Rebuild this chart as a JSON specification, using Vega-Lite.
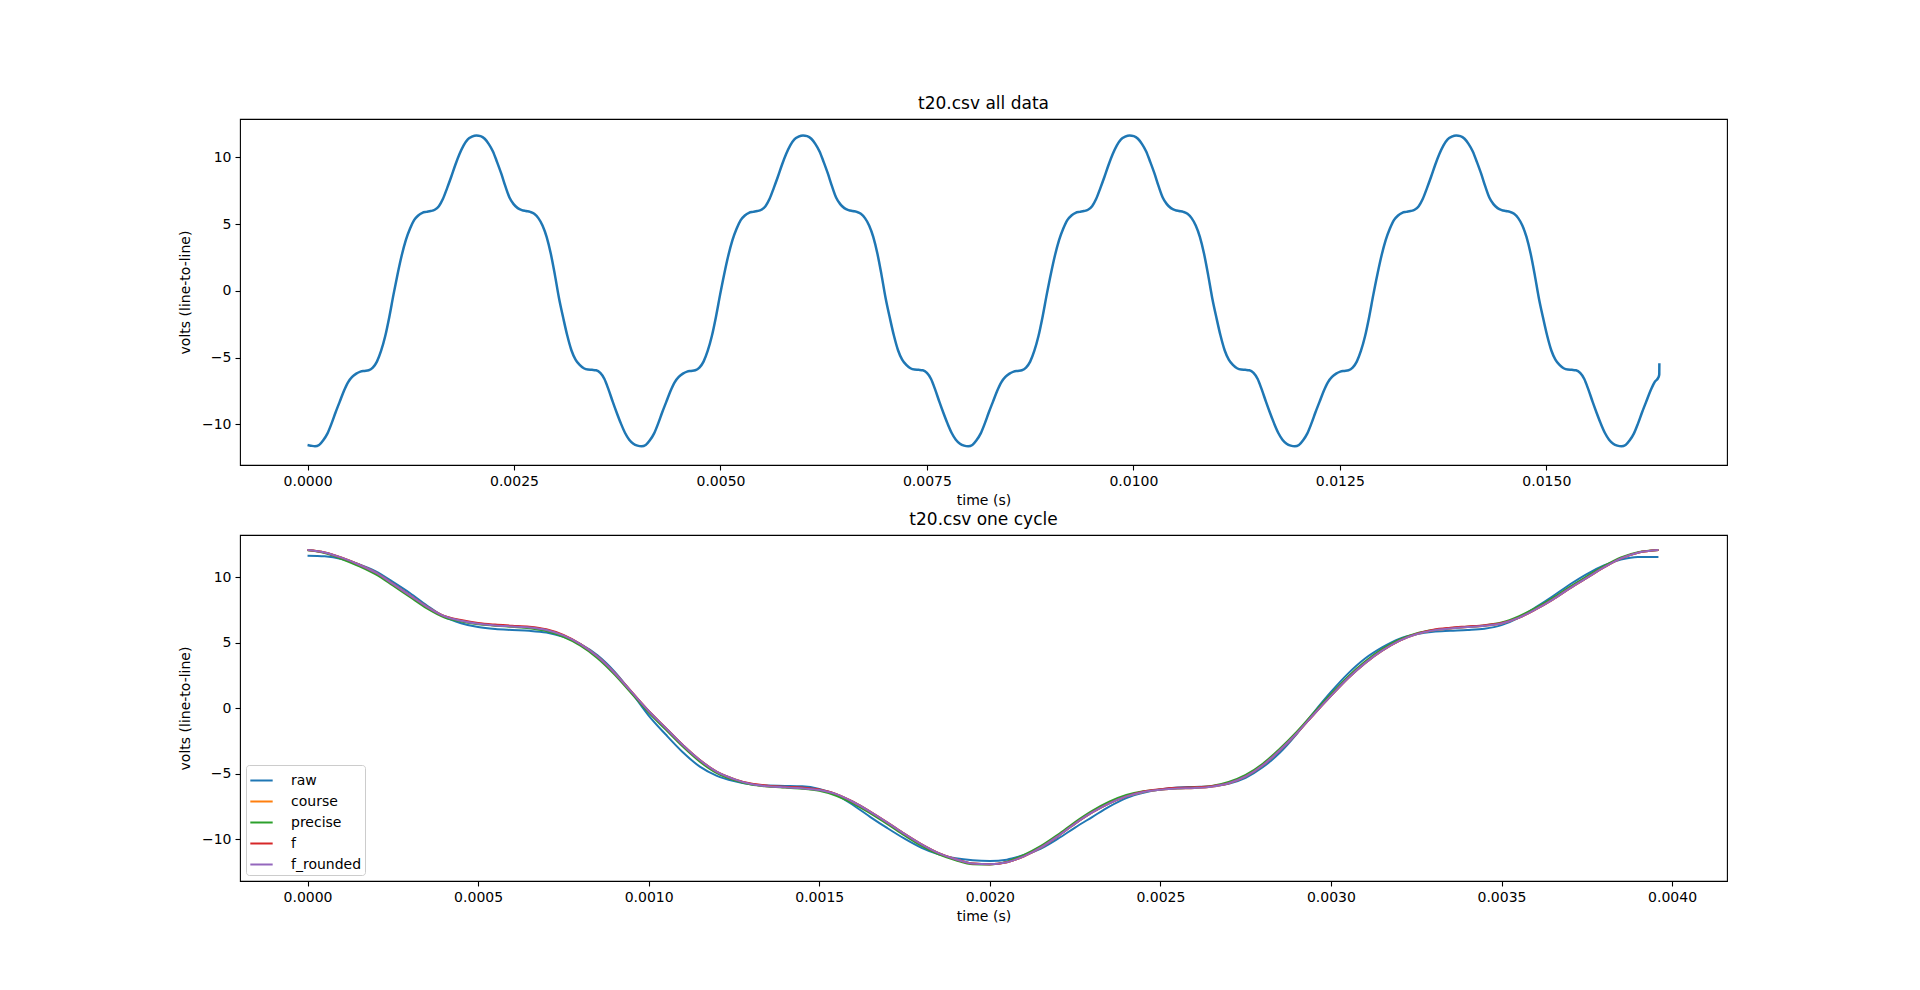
{
"$schema": "https://vega.github.io/schema/vega-lite/v6.json",
"background": "white",
"padding": {"left": 177, "top": 94, "right": 0, "bottom": 0},
"spacing": 70,
"bounds": "flush",
"resolve": {"legend": {"color": "independent"}, "scale": {"color": "independent"}},
"config": {
  "font": "DejaVu Sans",
  "view": {"stroke": "black", "strokeWidth": 1.1},
  "axis": {"domain": false, "grid": false, "ticks": true, "tickColor": "black", "tickSize": 5, "tickWidth": 1.1, "labelFont": "DejaVu Sans", "labelFontSize": 14, "labelColor": "black", "labelPadding": 4, "titleFont": "DejaVu Sans", "titleFontSize": 14, "titleFontWeight": "normal", "titleColor": "black"},
  "axisX": {"titlePadding": 5},
  "axisY": {"titlePadding": 9},
  "title": {"font": "DejaVu Sans", "fontSize": 17, "fontWeight": "normal", "color": "black", "offset": 6},
  "legend": {"symbolType": "stroke", "symbolStrokeWidth": 2, "symbolSize": 500, "labelFont": "DejaVu Sans", "labelFontSize": 14, "labelColor": "black", "rowPadding": 1, "padding": 3, "strokeColor": "#cccccc", "fillColor": "white", "cornerRadius": 3, "labelOffset": 17}
},
"datasets": {
"top": [
{"t":0,"v":-11.55},{"t":0.00004,"v":-11.6},{"t":0.00009,"v":-11.65},{"t":0.00014,"v":-11.55},{"t":0.00019,"v":-11.2},{"t":0.00024,"v":-10.7},{"t":0.00029,"v":-9.95},{"t":0.00034,"v":-9.1},{"t":0.00039,"v":-8.3},{"t":0.00044,"v":-7.5},{"t":0.00049,"v":-6.85},{"t":0.00054,"v":-6.45},{"t":0.00059,"v":-6.2},{"t":0.00064,"v":-6.05},{"t":0.00069,"v":-6.0},{"t":0.00074,"v":-5.95},{"t":0.00079,"v":-5.75},{"t":0.00084,"v":-5.3},{"t":0.00089,"v":-4.5},{"t":0.00094,"v":-3.4},{"t":0.00099,"v":-1.95},{"t":0.00104,"v":-0.3},{"t":0.00109,"v":1.25},{"t":0.00114,"v":2.65},{"t":0.00119,"v":3.8},{"t":0.00124,"v":4.65},{"t":0.00129,"v":5.3},{"t":0.00134,"v":5.65},{"t":0.00139,"v":5.85},{"t":0.00144,"v":5.92},{"t":0.00149,"v":5.98},{"t":0.00154,"v":6.08},{"t":0.00159,"v":6.35},{"t":0.00164,"v":6.9},{"t":0.00169,"v":7.7},{"t":0.00174,"v":8.55},{"t":0.00179,"v":9.45},{"t":0.00184,"v":10.25},{"t":0.00189,"v":10.9},{"t":0.00194,"v":11.35},{"t":0.00199,"v":11.55},
{"t":0.002045,"v":11.65},{"t":0.002095,"v":11.6},{"t":0.002145,"v":11.4},{"t":0.002195,"v":11.0},{"t":0.002245,"v":10.45},{"t":0.002295,"v":9.65},{"t":0.002345,"v":8.8},{"t":0.002395,"v":7.85},{"t":0.002445,"v":7.0},{"t":0.002495,"v":6.5},{"t":0.002545,"v":6.2},{"t":0.002595,"v":6.05},{"t":0.002645,"v":5.98},{"t":0.002695,"v":5.92},{"t":0.002745,"v":5.78},{"t":0.002795,"v":5.45},{"t":0.002845,"v":4.9},{"t":0.002895,"v":4.05},{"t":0.002945,"v":2.8},{"t":0.002995,"v":1.2},{"t":0.003045,"v":-0.55},{"t":0.003095,"v":-2.0},{"t":0.003145,"v":-3.35},{"t":0.003195,"v":-4.45},{"t":0.003245,"v":-5.15},{"t":0.003295,"v":-5.55},{"t":0.003345,"v":-5.8},{"t":0.003395,"v":-5.9},{"t":0.003445,"v":-5.92},{"t":0.003495,"v":-5.95},{"t":0.003545,"v":-6.15},{"t":0.003595,"v":-6.6},{"t":0.003645,"v":-7.4},{"t":0.003695,"v":-8.3},{"t":0.003745,"v":-9.15},{"t":0.003795,"v":-9.95},{"t":0.003845,"v":-10.65},{"t":0.003895,"v":-11.15},{"t":0.003945,"v":-11.45},{"t":0.003995,"v":-11.6},{"t":0.004045,"v":-11.65},{"t":0.004095,"v":-11.55},{"t":0.004145,"v":-11.2},{"t":0.004195,"v":-10.7},{"t":0.004245,"v":-9.95},{"t":0.004295,"v":-9.1},{"t":0.004345,"v":-8.3},{"t":0.004395,"v":-7.5},{"t":0.004445,"v":-6.85},{"t":0.004495,"v":-6.45},{"t":0.004545,"v":-6.2},{"t":0.004595,"v":-6.05},{"t":0.004645,"v":-6.0},{"t":0.004695,"v":-5.95},{"t":0.004745,"v":-5.75},{"t":0.004795,"v":-5.3},{"t":0.004845,"v":-4.5},{"t":0.004895,"v":-3.4},{"t":0.004945,"v":-1.95},{"t":0.004995,"v":-0.3},{"t":0.005045,"v":1.25},{"t":0.005095,"v":2.65},{"t":0.005145,"v":3.8},{"t":0.005195,"v":4.65},{"t":0.005245,"v":5.3},{"t":0.005295,"v":5.65},{"t":0.005345,"v":5.85},{"t":0.005395,"v":5.92},{"t":0.005445,"v":5.98},{"t":0.005495,"v":6.08},{"t":0.005545,"v":6.35},{"t":0.005595,"v":6.9},{"t":0.005645,"v":7.7},{"t":0.005695,"v":8.55},{"t":0.005745,"v":9.45},{"t":0.005795,"v":10.25},{"t":0.005845,"v":10.9},{"t":0.005895,"v":11.35},{"t":0.005945,"v":11.55},
{"t":0.0060,"v":11.65},{"t":0.00605,"v":11.6},{"t":0.0061,"v":11.4},{"t":0.00615,"v":11.0},{"t":0.0062,"v":10.45},{"t":0.00625,"v":9.65},{"t":0.0063,"v":8.8},{"t":0.00635,"v":7.85},{"t":0.0064,"v":7.0},{"t":0.00645,"v":6.5},{"t":0.0065,"v":6.2},{"t":0.00655,"v":6.05},{"t":0.0066,"v":5.98},{"t":0.00665,"v":5.92},{"t":0.0067,"v":5.78},{"t":0.00675,"v":5.45},{"t":0.0068,"v":4.9},{"t":0.00685,"v":4.05},{"t":0.0069,"v":2.8},{"t":0.00695,"v":1.2},{"t":0.0070,"v":-0.55},{"t":0.00705,"v":-2.0},{"t":0.0071,"v":-3.35},{"t":0.00715,"v":-4.45},{"t":0.0072,"v":-5.15},{"t":0.00725,"v":-5.55},{"t":0.0073,"v":-5.8},{"t":0.00735,"v":-5.9},{"t":0.0074,"v":-5.92},{"t":0.00745,"v":-5.95},{"t":0.0075,"v":-6.15},{"t":0.00755,"v":-6.6},{"t":0.0076,"v":-7.4},{"t":0.00765,"v":-8.3},{"t":0.0077,"v":-9.15},{"t":0.00775,"v":-9.95},{"t":0.0078,"v":-10.65},{"t":0.00785,"v":-11.15},{"t":0.0079,"v":-11.45},{"t":0.00795,"v":-11.6},{"t":0.0080,"v":-11.65},{"t":0.00805,"v":-11.55},{"t":0.0081,"v":-11.2},{"t":0.00815,"v":-10.7},{"t":0.0082,"v":-9.95},{"t":0.00825,"v":-9.1},{"t":0.0083,"v":-8.3},{"t":0.00835,"v":-7.5},{"t":0.0084,"v":-6.85},{"t":0.00845,"v":-6.45},{"t":0.0085,"v":-6.2},{"t":0.00855,"v":-6.05},{"t":0.0086,"v":-6.0},{"t":0.00865,"v":-5.95},{"t":0.0087,"v":-5.75},{"t":0.00875,"v":-5.3},{"t":0.0088,"v":-4.5},{"t":0.00885,"v":-3.4},{"t":0.0089,"v":-1.95},{"t":0.00895,"v":-0.3},{"t":0.0090,"v":1.25},{"t":0.00905,"v":2.65},{"t":0.0091,"v":3.8},{"t":0.00915,"v":4.65},{"t":0.0092,"v":5.3},{"t":0.00925,"v":5.65},{"t":0.0093,"v":5.85},{"t":0.00935,"v":5.92},{"t":0.0094,"v":5.98},{"t":0.00945,"v":6.08},{"t":0.0095,"v":6.35},{"t":0.00955,"v":6.9},{"t":0.0096,"v":7.7},{"t":0.00965,"v":8.55},{"t":0.0097,"v":9.45},{"t":0.00975,"v":10.25},{"t":0.0098,"v":10.9},{"t":0.00985,"v":11.35},{"t":0.0099,"v":11.55},
{"t":0.009955,"v":11.65},{"t":0.010005,"v":11.6},{"t":0.010055,"v":11.4},{"t":0.010105,"v":11.0},{"t":0.010155,"v":10.45},{"t":0.010205,"v":9.65},{"t":0.010255,"v":8.8},{"t":0.010305,"v":7.85},{"t":0.010355,"v":7.0},{"t":0.010405,"v":6.5},{"t":0.010455,"v":6.2},{"t":0.010505,"v":6.05},{"t":0.010555,"v":5.98},{"t":0.010605,"v":5.92},{"t":0.010655,"v":5.78},{"t":0.010705,"v":5.45},{"t":0.010755,"v":4.9},{"t":0.010805,"v":4.05},{"t":0.010855,"v":2.8},{"t":0.010905,"v":1.2},{"t":0.010955,"v":-0.55},{"t":0.011005,"v":-2.0},{"t":0.011055,"v":-3.35},{"t":0.011105,"v":-4.45},{"t":0.011155,"v":-5.15},{"t":0.011205,"v":-5.55},{"t":0.011255,"v":-5.8},{"t":0.011305,"v":-5.9},{"t":0.011355,"v":-5.92},{"t":0.011405,"v":-5.95},{"t":0.011455,"v":-6.15},{"t":0.011505,"v":-6.6},{"t":0.011555,"v":-7.4},{"t":0.011605,"v":-8.3},{"t":0.011655,"v":-9.15},{"t":0.011705,"v":-9.95},{"t":0.011755,"v":-10.65},{"t":0.011805,"v":-11.15},{"t":0.011855,"v":-11.45},{"t":0.011905,"v":-11.6},{"t":0.011955,"v":-11.65},{"t":0.012005,"v":-11.55},{"t":0.012055,"v":-11.2},{"t":0.012105,"v":-10.7},{"t":0.012155,"v":-9.95},{"t":0.012205,"v":-9.1},{"t":0.012255,"v":-8.3},{"t":0.012305,"v":-7.5},{"t":0.012355,"v":-6.85},{"t":0.012405,"v":-6.45},{"t":0.012455,"v":-6.2},{"t":0.012505,"v":-6.05},{"t":0.012555,"v":-6.0},{"t":0.012605,"v":-5.95},{"t":0.012655,"v":-5.75},{"t":0.012705,"v":-5.3},{"t":0.012755,"v":-4.5},{"t":0.012805,"v":-3.4},{"t":0.012855,"v":-1.95},{"t":0.012905,"v":-0.3},{"t":0.012955,"v":1.25},{"t":0.013005,"v":2.65},{"t":0.013055,"v":3.8},{"t":0.013105,"v":4.65},{"t":0.013155,"v":5.3},{"t":0.013205,"v":5.65},{"t":0.013255,"v":5.85},{"t":0.013305,"v":5.92},{"t":0.013355,"v":5.98},{"t":0.013405,"v":6.08},{"t":0.013455,"v":6.35},{"t":0.013505,"v":6.9},{"t":0.013555,"v":7.7},{"t":0.013605,"v":8.55},{"t":0.013655,"v":9.45},{"t":0.013705,"v":10.25},{"t":0.013755,"v":10.9},{"t":0.013805,"v":11.35},{"t":0.013855,"v":11.55},
{"t":0.01391,"v":11.65},{"t":0.01396,"v":11.6},{"t":0.01401,"v":11.4},{"t":0.01406,"v":11.0},{"t":0.01411,"v":10.45},{"t":0.01416,"v":9.65},{"t":0.01421,"v":8.8},{"t":0.01426,"v":7.85},{"t":0.01431,"v":7.0},{"t":0.01436,"v":6.5},{"t":0.01441,"v":6.2},{"t":0.01446,"v":6.05},{"t":0.01451,"v":5.98},{"t":0.01456,"v":5.92},{"t":0.01461,"v":5.78},{"t":0.01466,"v":5.45},{"t":0.01471,"v":4.9},{"t":0.01476,"v":4.05},{"t":0.01481,"v":2.8},{"t":0.01486,"v":1.2},{"t":0.01491,"v":-0.55},{"t":0.01496,"v":-2.0},{"t":0.01501,"v":-3.35},{"t":0.01506,"v":-4.45},{"t":0.01511,"v":-5.15},{"t":0.01516,"v":-5.55},{"t":0.01521,"v":-5.8},{"t":0.01526,"v":-5.9},{"t":0.01531,"v":-5.92},{"t":0.01536,"v":-5.95},{"t":0.01541,"v":-6.15},{"t":0.01546,"v":-6.6},{"t":0.01551,"v":-7.4},{"t":0.01556,"v":-8.3},{"t":0.01561,"v":-9.15},{"t":0.01566,"v":-9.95},{"t":0.01571,"v":-10.65},{"t":0.01576,"v":-11.15},{"t":0.01581,"v":-11.45},{"t":0.01586,"v":-11.6},{"t":0.01591,"v":-11.65},{"t":0.01596,"v":-11.55},{"t":0.01601,"v":-11.2},{"t":0.01606,"v":-10.7},{"t":0.01611,"v":-9.95},{"t":0.01616,"v":-9.1},{"t":0.01621,"v":-8.3},{"t":0.01626,"v":-7.5},{"t":0.01631,"v":-6.85},{"t":0.01636,"v":-6.45},{"t":0.016368,"v":-6.25},{"t":0.016369,"v":-5.43}
],
"cycle": [
{"t":0,"raw":11.65,"course":12.08,"precise":12.06,"f":12.08,"f_rounded":12.08},
{"t":0.00005,"raw":11.6,"course":11.9,"precise":11.86,"f":11.9,"f_rounded":11.9},
{"t":0.0001,"raw":11.4,"course":11.5,"precise":11.4,"f":11.5,"f_rounded":11.5},
{"t":0.00015,"raw":11.0,"course":10.98,"precise":10.86,"f":10.98,"f_rounded":10.98},
{"t":0.0002,"raw":10.45,"course":10.35,"precise":10.23,"f":10.35,"f_rounded":10.35},
{"t":0.00025,"raw":9.65,"course":9.5,"precise":9.38,"f":9.5,"f_rounded":9.5},
{"t":0.0003,"raw":8.8,"course":8.62,"precise":8.5,"f":8.62,"f_rounded":8.62},
{"t":0.00035,"raw":7.85,"course":7.75,"precise":7.63,"f":7.75,"f_rounded":7.75},
{"t":0.0004,"raw":7.0,"course":7.05,"precise":6.95,"f":7.05,"f_rounded":7.05},
{"t":0.00045,"raw":6.5,"course":6.68,"precise":6.63,"f":6.74,"f_rounded":6.68},
{"t":0.0005,"raw":6.2,"course":6.45,"precise":6.42,"f":6.51,"f_rounded":6.45},
{"t":0.00055,"raw":6.05,"course":6.33,"precise":6.31,"f":6.39,"f_rounded":6.33},
{"t":0.0006,"raw":5.98,"course":6.25,"precise":6.22,"f":6.31,"f_rounded":6.25},
{"t":0.00065,"raw":5.92,"course":6.17,"precise":6.12,"f":6.23,"f_rounded":6.17},
{"t":0.0007,"raw":5.78,"course":5.98,"precise":5.9,"f":6.03,"f_rounded":5.98},
{"t":0.00075,"raw":5.45,"course":5.57,"precise":5.45,"f":5.6,"f_rounded":5.57},
{"t":0.0008,"raw":4.9,"course":4.9,"precise":4.78,"f":4.9,"f_rounded":4.9},
{"t":0.00085,"raw":4.05,"course":3.95,"precise":3.83,"f":3.95,"f_rounded":3.95},
{"t":0.0009,"raw":2.8,"course":2.7,"precise":2.58,"f":2.7,"f_rounded":2.7},
{"t":0.00095,"raw":1.2,"course":1.25,"precise":1.13,"f":1.25,"f_rounded":1.25},
{"t":0.001,"raw":-0.55,"course":-0.2,"precise":-0.32,"f":-0.2,"f_rounded":-0.2},
{"t":0.00105,"raw":-2.0,"course":-1.5,"precise":-1.62,"f":-1.5,"f_rounded":-1.5},
{"t":0.0011,"raw":-3.35,"course":-2.8,"precise":-2.92,"f":-2.8,"f_rounded":-2.8},
{"t":0.00115,"raw":-4.45,"course":-3.95,"precise":-4.07,"f":-3.95,"f_rounded":-3.95},
{"t":0.0012,"raw":-5.15,"course":-4.85,"precise":-4.95,"f":-4.85,"f_rounded":-4.85},
{"t":0.00125,"raw":-5.55,"course":-5.4,"precise":-5.48,"f":-5.4,"f_rounded":-5.4},
{"t":0.0013,"raw":-5.8,"course":-5.78,"precise":-5.82,"f":-5.74,"f_rounded":-5.78},
{"t":0.00135,"raw":-5.9,"course":-5.95,"precise":-5.97,"f":-5.9,"f_rounded":-5.95},
{"t":0.0014,"raw":-5.92,"course":-6.03,"precise":-6.05,"f":-5.98,"f_rounded":-6.03},
{"t":0.00145,"raw":-5.95,"course":-6.1,"precise":-6.13,"f":-6.05,"f_rounded":-6.1},
{"t":0.0015,"raw":-6.15,"course":-6.24,"precise":-6.3,"f":-6.2,"f_rounded":-6.24},
{"t":0.00155,"raw":-6.6,"course":-6.55,"precise":-6.67,"f":-6.55,"f_rounded":-6.55},
{"t":0.0016,"raw":-7.4,"course":-7.15,"precise":-7.27,"f":-7.15,"f_rounded":-7.15},
{"t":0.00165,"raw":-8.3,"course":-7.9,"precise":-8.02,"f":-7.9,"f_rounded":-7.9},
{"t":0.0017,"raw":-9.15,"course":-8.72,"precise":-8.84,"f":-8.72,"f_rounded":-8.72},
{"t":0.00175,"raw":-9.95,"course":-9.58,"precise":-9.7,"f":-9.58,"f_rounded":-9.58},
{"t":0.0018,"raw":-10.65,"course":-10.38,"precise":-10.5,"f":-10.38,"f_rounded":-10.38},
{"t":0.00185,"raw":-11.15,"course":-11.05,"precise":-11.15,"f":-11.05,"f_rounded":-11.05},
{"t":0.0019,"raw":-11.45,"course":-11.52,"precise":-11.6,"f":-11.52,"f_rounded":-11.52},
{"t":0.00195,"raw":-11.6,"course":-11.85,"precise":-11.9,"f":-11.85,"f_rounded":-11.85},
{"t":0.002,"raw":-11.65,"course":-11.9,"precise":-11.92,"f":-11.9,"f_rounded":-11.9},
{"t":0.00205,"raw":-11.55,"course":-11.75,"precise":-11.7,"f":-11.75,"f_rounded":-11.75},
{"t":0.0021,"raw":-11.2,"course":-11.3,"precise":-11.18,"f":-11.3,"f_rounded":-11.3},
{"t":0.00215,"raw":-10.7,"course":-10.62,"precise":-10.5,"f":-10.62,"f_rounded":-10.62},
{"t":0.0022,"raw":-9.95,"course":-9.75,"precise":-9.63,"f":-9.75,"f_rounded":-9.75},
{"t":0.00225,"raw":-9.1,"course":-8.8,"precise":-8.68,"f":-8.8,"f_rounded":-8.8},
{"t":0.0023,"raw":-8.3,"course":-7.95,"precise":-7.83,"f":-7.95,"f_rounded":-7.95},
{"t":0.00235,"raw":-7.5,"course":-7.25,"precise":-7.13,"f":-7.25,"f_rounded":-7.25},
{"t":0.0024,"raw":-6.85,"course":-6.72,"precise":-6.62,"f":-6.72,"f_rounded":-6.72},
{"t":0.00245,"raw":-6.45,"course":-6.38,"precise":-6.33,"f":-6.34,"f_rounded":-6.38},
{"t":0.0025,"raw":-6.2,"course":-6.22,"precise":-6.2,"f":-6.17,"f_rounded":-6.22},
{"t":0.00255,"raw":-6.05,"course":-6.12,"precise":-6.1,"f":-6.07,"f_rounded":-6.12},
{"t":0.0026,"raw":-6.0,"course":-6.08,"precise":-6.05,"f":-6.03,"f_rounded":-6.08},
{"t":0.00265,"raw":-5.95,"course":-5.98,"precise":-5.93,"f":-5.94,"f_rounded":-5.98},
{"t":0.0027,"raw":-5.75,"course":-5.72,"precise":-5.62,"f":-5.72,"f_rounded":-5.72},
{"t":0.00275,"raw":-5.3,"course":-5.2,"precise":-5.08,"f":-5.2,"f_rounded":-5.2},
{"t":0.0028,"raw":-4.5,"course":-4.35,"precise":-4.23,"f":-4.35,"f_rounded":-4.35},
{"t":0.00285,"raw":-3.4,"course":-3.2,"precise":-3.08,"f":-3.2,"f_rounded":-3.2},
{"t":0.0029,"raw":-1.95,"course":-1.9,"precise":-1.78,"f":-1.9,"f_rounded":-1.9},
{"t":0.00295,"raw":-0.3,"course":-0.45,"precise":-0.33,"f":-0.45,"f_rounded":-0.45},
{"t":0.003,"raw":1.25,"course":0.95,"precise":1.07,"f":0.95,"f_rounded":0.95},
{"t":0.00305,"raw":2.65,"course":2.3,"precise":2.42,"f":2.3,"f_rounded":2.3},
{"t":0.0031,"raw":3.8,"course":3.45,"precise":3.57,"f":3.45,"f_rounded":3.45},
{"t":0.00315,"raw":4.65,"course":4.4,"precise":4.52,"f":4.4,"f_rounded":4.4},
{"t":0.0032,"raw":5.3,"course":5.15,"precise":5.25,"f":5.15,"f_rounded":5.15},
{"t":0.00325,"raw":5.65,"course":5.65,"precise":5.72,"f":5.68,"f_rounded":5.65},
{"t":0.0033,"raw":5.85,"course":5.95,"precise":5.98,"f":6.0,"f_rounded":5.95},
{"t":0.00335,"raw":5.92,"course":6.1,"precise":6.12,"f":6.15,"f_rounded":6.1},
{"t":0.0034,"raw":5.98,"course":6.2,"precise":6.22,"f":6.25,"f_rounded":6.2},
{"t":0.00345,"raw":6.08,"course":6.3,"precise":6.33,"f":6.35,"f_rounded":6.3},
{"t":0.0035,"raw":6.35,"course":6.48,"precise":6.55,"f":6.51,"f_rounded":6.48},
{"t":0.00355,"raw":6.9,"course":6.9,"precise":7.02,"f":6.9,"f_rounded":6.9},
{"t":0.0036,"raw":7.7,"course":7.55,"precise":7.67,"f":7.55,"f_rounded":7.55},
{"t":0.00365,"raw":8.55,"course":8.3,"precise":8.42,"f":8.3,"f_rounded":8.3},
{"t":0.0037,"raw":9.45,"course":9.15,"precise":9.27,"f":9.15,"f_rounded":9.15},
{"t":0.00375,"raw":10.25,"course":9.95,"precise":10.07,"f":9.95,"f_rounded":9.95},
{"t":0.0038,"raw":10.9,"course":10.75,"precise":10.85,"f":10.75,"f_rounded":10.75},
{"t":0.00385,"raw":11.35,"course":11.45,"precise":11.52,"f":11.45,"f_rounded":11.45},
{"t":0.0039,"raw":11.55,"course":11.88,"precise":11.92,"f":11.88,"f_rounded":11.88},
{"t":0.00396,"raw":11.55,"course":12.08,"precise":12.08,"f":12.08,"f_rounded":12.08}
]
},
"vconcat": [
{
  "width": 1487, "height": 346,
  "title": "t20.csv all data",
  "data": {"name": "top"},
  "mark": {"type": "line", "strokeWidth": 2.5, "color": "#1f77b4", "interpolate": "monotone"},
  "encoding": {
    "x": {"field": "t", "type": "quantitative", "scale": {"domain": [-0.000818, 0.017188], "nice": false, "zero": false}, "axis": {"values": [0, 0.0025, 0.005, 0.0075, 0.01, 0.0125, 0.015], "format": ".4f", "title": "time (s)"}},
    "y": {"field": "v", "type": "quantitative", "scale": {"domain": [-13.05, 12.88], "nice": false, "zero": false}, "axis": {"values": [-10, -5, 0, 5, 10], "title": "volts (line-to-line)"}}
  }
},
{
  "width": 1487, "height": 346,
  "title": "t20.csv one cycle",
  "data": {"name": "cycle"},
  "transform": [{"fold": ["raw", "course", "precise", "f", "f_rounded"], "as": ["series", "volts"]}],
  "mark": {"type": "line", "strokeWidth": 2, "interpolate": "monotone"},
  "encoding": {
    "x": {"field": "t", "type": "quantitative", "scale": {"domain": [-0.000198, 0.004161], "nice": false, "zero": false}, "axis": {"values": [0, 0.0005, 0.001, 0.0015, 0.002, 0.0025, 0.003, 0.0035, 0.004], "format": ".4f", "title": "time (s)"}},
    "y": {"field": "volts", "type": "quantitative", "scale": {"domain": [-13.18, 13.23], "nice": false, "zero": false}, "axis": {"values": [-10, -5, 0, 5, 10], "title": "volts (line-to-line)"}},
    "color": {"field": "series", "type": "nominal", "scale": {"domain": ["raw", "course", "precise", "f", "f_rounded"], "range": ["#1f77b4", "#ff7f0e", "#2ca02c", "#d62728", "#9467bd"]}, "legend": {"title": null, "orient": "none", "legendX": 6, "legendY": 230}}
  }
}
]
}
